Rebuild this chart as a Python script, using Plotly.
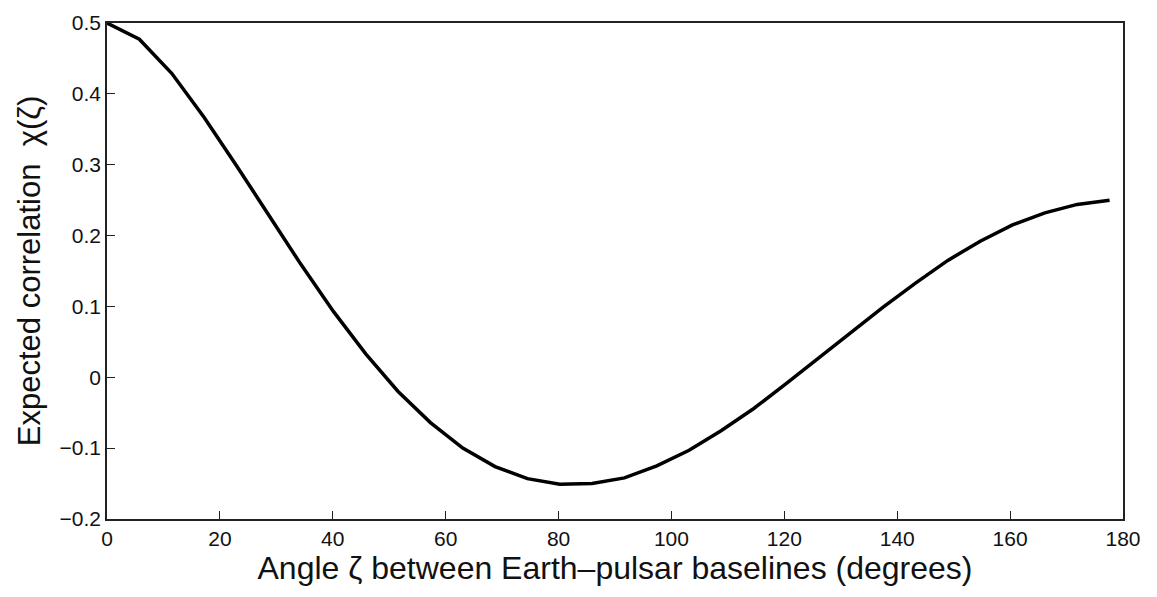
import plotly.graph_objects as go

# angle zeta (degrees) and expected correlation chi(zeta)
zeta_deg = [0.0, 5.73, 11.46, 17.19, 22.92, 28.65, 34.38, 40.11, 45.84, 51.57,
            57.30, 63.03, 68.75, 74.48, 80.21, 85.94, 91.67, 97.40, 103.13, 108.86,
            114.59, 120.32, 126.05, 131.78, 137.51, 143.24, 148.97, 154.70, 160.43,
            166.16, 171.89, 177.62]
chi = [0.500, 0.477, 0.429, 0.367, 0.299, 0.228, 0.159, 0.093, 0.033, -0.020,
       -0.064, -0.100, -0.126, -0.143, -0.151, -0.150, -0.142, -0.125, -0.103, -0.075,
       -0.044, -0.009, 0.027, 0.064, 0.099, 0.133, 0.165, 0.192, 0.215,
       0.232, 0.244, 0.250]

x_ticks = [0, 20, 40, 60, 80, 100, 120, 140, 160, 180]
y_ticks = [-0.2, -0.1, 0, 0.1, 0.2, 0.3, 0.4, 0.5]
y_ticktext = ["\u22120.2", "\u22120.1", "0", "0.1", "0.2", "0.3", "0.4", "0.5"]

fig = go.Figure()
fig.add_trace(go.Scatter(x=zeta_deg, y=chi, mode="lines",
                         line=dict(color="black", width=3.5), showlegend=False))

axis_common = dict(showline=True, linecolor="#222", linewidth=1.5, mirror=True,
                   ticks="inside", ticklen=8, tickcolor="#222", tickwidth=1,
                   showgrid=False, zeroline=False,
                   tickfont=dict(family="Liberation Sans, Arial", size=21, color="#111"))

fig.update_layout(
    width=1157, height=597,
    margin=dict(l=107, r=34, t=11, b=78),
    paper_bgcolor="white", plot_bgcolor="white",
    xaxis=dict(range=[0, 180], tickvals=x_ticks,
               title=dict(text="Angle \u03b6 between Earth\u2013pulsar baselines (degrees)",
                          font=dict(family="Liberation Sans, Arial", size=32, color="#111"),
                          standoff=6),
               **axis_common),
    yaxis=dict(range=[-0.2, 0.5], tickvals=y_ticks, ticktext=y_ticktext,
               title=dict(text="Expected correlation  \u03c7(\u03b6)",
                          font=dict(family="Liberation Sans, Arial", size=31, color="#111"),
                          standoff=10),
               **axis_common),
)

fig.write_html("out.html")
